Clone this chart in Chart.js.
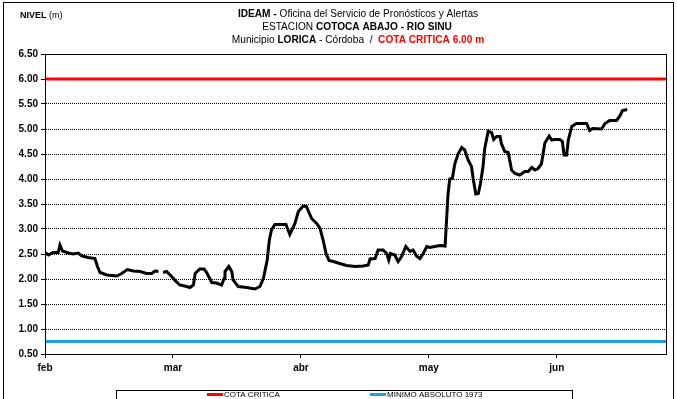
<!DOCTYPE html>
<html>
<head>
<meta charset="utf-8">
<script src="https://cdn.jsdelivr.net/npm/chart.js@4/dist/chart.umd.min.js"></script>
<style>
  html, body { margin: 0; padding: 0; background: #fff; }
  #wrap { width: 677px; height: 399px; }
</style>
</head>
<body>
<div id="wrap"><canvas id="grafico" width="677" height="399"></canvas></div>
<script>
// Nivel del rio Sinu en Cotoca Abajo, feb - jun (dias desde 1 feb, meses de 30 dias en el eje)
var meses = ["feb", "mar", "abr", "may", "jun"];
var dias = [0, 0.8, 1.9, 3.1, 3.5, 4.1, 5.5, 6.6, 7.8, 8.6, 10.1, 11.7, 12.3, 12.9, 14.5, 16.8, 18.0, 19.3, 20.7, 22.3,
  23.8, 25.0, 25.8, 26.6, 27.1, 27.7, 28.5, 29.7, 30.5, 31.6, 33.2, 34.0, 34.8, 35.2, 36.3, 37.3, 37.9, 39.1, 40.2, 41.4,
  42.0, 42.2, 43.1, 43.8, 44.1, 45.3, 47.3, 49.2, 50.4, 51.2, 52.1, 52.6, 53.1, 53.9, 55.1, 56.5, 57.4, 58.6, 59.4, 60.5,
  61.3, 62.5, 63.7, 64.5, 65.2, 65.9, 66.6, 67.6, 69.1, 70.7, 72.7, 74.6, 75.8, 76.2, 77.4, 78.1, 79.3, 80.1, 80.6, 81.0,
  82.0, 82.8, 83.6, 84.6, 85.6, 86.3, 87.1, 87.9, 88.7, 89.5, 90.2, 91.4, 92.6, 93.8, 94.2, 94.5, 94.9, 95.5, 96.1, 96.9,
  97.7, 98.4, 99.2, 100.0, 100.4, 101.0, 101.6, 102.1, 102.7, 103.1, 103.9, 104.7, 105.2, 105.9, 106.7, 107.0, 107.8, 108.6, 109.4, 110.2,
  111.3, 112.5, 113.3, 114.1, 114.9, 115.6, 116.4, 117.2, 118.2, 118.8, 119.5, 120.7, 121.3, 121.7, 122.3, 122.7, 123.5, 124.6, 127.0, 127.7,
  128.4, 130.5, 131.3, 132.4, 134.0, 134.8, 135.4, 136.5];
var nivel = [2.53, 2.48, 2.53, 2.53, 2.68, 2.56, 2.52, 2.50, 2.52, 2.46, 2.43, 2.41, 2.25, 2.13, 2.08, 2.06, 2.11, 2.19, 2.16, 2.15,
  2.11, 2.11, 2.16, 2.15, null, 2.13, 2.15, 2.05, 1.97, 1.88, 1.85, 1.83, 1.88, 2.11, 2.20, 2.20, 2.13, 1.93, 1.92, 1.88,
  2.01, 2.15, 2.25, 2.15, 1.98, 1.85, 1.83, 1.80, 1.85, 2.01, 2.38, 2.78, 2.98, 3.09, 3.09, 3.09, 2.89, 3.11, 3.35, 3.46,
  3.45, 3.21, 3.11, 3.01, 2.78, 2.51, 2.37, 2.35, 2.31, 2.27, 2.25, 2.26, 2.28, 2.40, 2.41, 2.58, 2.58, 2.51, 2.38, 2.51,
  2.48, 2.35, 2.45, 2.65, 2.55, 2.58, 2.46, 2.41, 2.51, 2.65, 2.63, 2.65, 2.67, 2.66, 3.25, 3.70, 4.00, 4.01, 4.31, 4.51,
  4.63, 4.58, 4.38, 4.25, 4.00, 3.70, 3.71, 3.91, 4.25, 4.61, 4.95, 4.93, 4.79, 4.85, 4.85, 4.71, 4.55, 4.53, 4.18, 4.11,
  4.08, 4.15, 4.15, 4.23, 4.18, 4.21, 4.30, 4.72, 4.86, 4.78, 4.79, 4.79, 4.75, 4.48, 4.48, 4.78, 5.05, 5.11, 5.11, 4.97,
  5.01, 5.00, 5.11, 5.17, 5.17, 5.26, 5.37, 5.39];
var cotaCritica = 6.00;
var minimoAbsoluto = 0.75;
var diaFinal = 145.6;

var puntos = dias.map(function (d, i) { return { x: d, y: nivel[i] }; });

var fuente = '"Liberation Sans Narrow", "Arial Narrow", "Liberation Sans", Arial, sans-serif';
var fuenteEjes = '"Liberation Sans", Arial, sans-serif';

// texto con trozos en negrita/normal, comprimido en horizontal (como Arial Narrow)
function escribirTrozos(ctx, trozos, cx, y, tam, sx) {
  var total = 0;
  trozos.forEach(function (t) {
    ctx.font = (t.b ? "bold " : "") + tam + "px " + fuente;
    t.w = ctx.measureText(t.t).width;
    total += t.w;
  });
  ctx.save();
  ctx.translate(cx - total * sx / 2, y);
  ctx.scale(sx, 1);
  var x = 0;
  trozos.forEach(function (t) {
    ctx.font = (t.b ? "bold " : "") + tam + "px " + fuente;
    ctx.fillStyle = t.c || "#000";
    ctx.fillText(t.t, x, 0);
    x += t.w;
  });
  ctx.restore();
}

var adornos = {
  id: "adornos",
  beforeDraw: function (chart) {
    var ctx = chart.ctx;
    ctx.save();
    ctx.fillStyle = "#fff";
    ctx.fillRect(0, 0, chart.width, chart.height);
    ctx.restore();
  },
  afterDraw: function (chart) {
    var ctx = chart.ctx;
    var a = chart.chartArea;
    ctx.save();
    // marco exterior
    ctx.strokeStyle = "#000";
    ctx.lineWidth = 1;
    ctx.strokeRect(3.5, 2.5, 670, 410);
    // marco del area de trazado
    ctx.strokeRect(Math.round(a.left) + 0.5, Math.round(a.top) + 0.5, Math.round(a.right - a.left), Math.round(a.bottom - a.top));
    // titulo
    ctx.textBaseline = "middle";
    ctx.textAlign = "left";
    escribirTrozos(ctx, [{ t: "IDEAM - ", b: true }, { t: "Oficina del Servicio de Pronósticos y Alertas" }], 358, 14, 11, 0.92);
    escribirTrozos(ctx, [{ t: "ESTACION " }, { t: "COTOCA ABAJO - RIO SINU", b: true }], 357, 27, 11, 0.92);
    escribirTrozos(ctx, [{ t: "Municipio " }, { t: "LORICA", b: true }, { t: " - Córdoba  /  " },
      { t: "COTA CRITICA 6.00 m", b: true, c: "#ff0000" }], 358, 40, 11, 0.92);
    ctx.font = "bold 9px " + fuente;
    ctx.fillStyle = "#000";
    ctx.fillText("NIVEL", 20, 16);
    var wN = ctx.measureText("NIVEL ").width;
    ctx.font = "9px " + fuente;
    ctx.fillText("(m)", 20 + wN, 16);
    // leyenda
    ctx.strokeRect(116.5, 390.5, 456, 20);
    var items = [
      { t: "COTA CRITICA", c: "#ff0000", x: 207 },
      { t: "MINIMO ABSOLUTO 1973", c: "#1ea0d8", x: 370 }
    ];
    items.forEach(function (it) {
      ctx.fillStyle = it.c;
      ctx.fillRect(it.x, 393, 16, 3);
      ctx.fillStyle = "#000";
      ctx.font = "8px " + fuente;
      ctx.fillText(it.t, it.x + 17, 395);
    });
    ctx.restore();
  }
};

new Chart(document.getElementById("grafico").getContext("2d"), {
  type: "line",
  data: {
    datasets: [
      {
        label: "NIVEL",
        data: puntos,
        borderColor: "#000",
        borderWidth: 3,
        pointRadius: 0,
        tension: 0,
        spanGaps: false,
        order: 0
      },
      {
        label: "COTA CRITICA",
        data: [{ x: 0, y: cotaCritica }, { x: diaFinal, y: cotaCritica }],
        borderColor: "#ff0000",
        borderWidth: 3,
        pointRadius: 0,
        order: 1
      },
      {
        label: "MINIMO ABSOLUTO 1973",
        data: [{ x: 0, y: minimoAbsoluto }, { x: diaFinal, y: minimoAbsoluto }],
        borderColor: "#1ea0d8",
        borderWidth: 3,
        pointRadius: 0,
        order: 1
      }
    ]
  },
  options: {
    responsive: false,
    animation: false,
    layout: { padding: { left: 0, right: 11, top: 54, bottom: 25 } },
    plugins: { legend: { display: false }, title: { display: false }, tooltip: { enabled: false } },
    scales: {
      x: {
        type: "linear",
        min: 0,
        max: diaFinal,
        afterBuildTicks: function (scale) {
          scale.ticks = meses.map(function (m, i) { return { value: i * 30 }; });
        },
        afterFit: function (scale) { scale.height = 20; },
        ticks: {
          autoSkip: false,
          maxRotation: 0,
          padding: 4,
          color: "#000",
          font: { family: fuenteEjes, size: 10, weight: "bold" },
          callback: function (v) { return meses[Math.round(v / 30)]; }
        },
        grid: { drawOnChartArea: false, drawTicks: true, tickLength: 4, color: "#000" },
        border: { color: "#000" }
      },
      y: {
        min: 0.5,
        max: 6.5,
        afterFit: function (scale) { scale.width = 45; },
        ticks: {
          stepSize: 0.5,
          padding: 3,
          color: "#000",
          font: { family: fuenteEjes, size: 10, weight: "bold" },
          callback: function (v) { return Number(v).toFixed(2); }
        },
        grid: { color: "#000", lineWidth: 1, tickLength: 4, tickBorderDash: [], borderDash: [1, 1] },
        border: { color: "#000", dash: [1, 1] }
      }
    }
  },
  plugins: [adornos]
});
</script>
</body>
</html>
